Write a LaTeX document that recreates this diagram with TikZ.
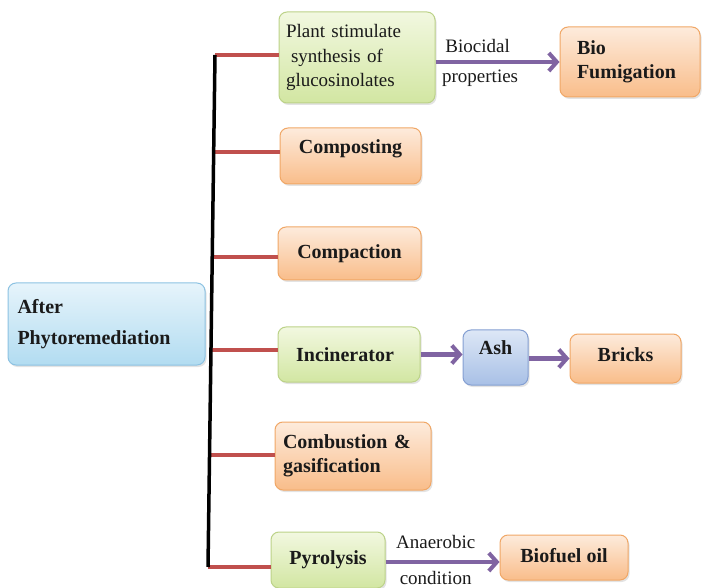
\documentclass[tikz,border=0pt]{standalone}
\usepackage{fontspec}
\setmainfont{Liberation Serif}
\usetikzlibrary{arrows.meta,shadows}

\definecolor{greenA}{HTML}{F2F8E0}
\definecolor{greenB}{HTML}{D2E6A2}
\definecolor{greenD}{HTML}{BCD288}
\definecolor{orangeA}{HTML}{FDEBDC}
\definecolor{orangeB}{HTML}{F9BD8A}
\definecolor{orangeD}{HTML}{F0A766}
\definecolor{blueA}{HTML}{E6F4FB}
\definecolor{blueB}{HTML}{B2DCF1}
\definecolor{blueD}{HTML}{8CC2E2}
\definecolor{ashA}{HTML}{DDE7F6}
\definecolor{ashB}{HTML}{A8C0E6}
\definecolor{ashD}{HTML}{849FD2}
\definecolor{branchred}{HTML}{C0504D}
\definecolor{arrowpurple}{HTML}{8064A2}
\definecolor{txt}{HTML}{1A1A1A}

\tikzset{
  box/.style={rounded corners=8pt, line width=1pt, inner sep=3pt, text=txt,
    font=\fontsize{20}{24.5}\selectfont\bfseries,
    drop shadow={shadow xshift=1.5pt, shadow yshift=-2pt, opacity=0.22}},
  greenbox/.style={box, draw=greenD, top color=greenA, bottom color=greenB},
  orangebox/.style={box, draw=orangeD, top color=orangeA, bottom color=orangeB},
  bluebox/.style={box, draw=blueD, top color=blueA, bottom color=blueB},
  ashbox/.style={box, draw=ashD, top color=ashA, bottom color=ashB},
  trunk/.style={line width=3.5pt, black},
  branch/.style={line width=3.5pt, branchred},
  flow/.style={line width=4.5pt, arrowpurple,
    -{Straight Barb[length=8pt, width=18pt, line width=4pt]}},
  lbl/.style={font=\fontsize{19}{24}\selectfont, inner sep=0pt, text=txt}
}

\begin{document}
\begin{tikzpicture}[x=1pt, y=-1pt]
\useasboundingbox (0,0) rectangle (702,588);

% boxes
\node[bluebox, minimum width=197pt, minimum height=82pt, align=left, text width=178pt] (after) at (106.5,324)
  {After\\[7pt]Phytoremediation};
\node[greenbox, minimum width=156pt, minimum height=91pt, align=left, text width=142pt,
  font=\fontsize{19}{24.5}\selectfont\mdseries] (plant) at (357,57.5)
  {Plant stimulate\\\hspace*{5pt}synthesis of\\glucosinolates};
\node[orangebox, minimum width=140pt, minimum height=70pt, align=left, text width=106pt] (biofum) at (630,62)
  {Bio\\Fumigation};
\node[orangebox, minimum width=141pt, minimum height=56pt, text depth=18pt] (compost) at (350.5,156)
  {Composting};
\node[orangebox, minimum width=143pt, minimum height=53pt] (compact) at (349.5,253.5)
  {Compaction};
\node[greenbox, minimum width=142pt, minimum height=55pt] (incin) at (349,354.5)
  {\hspace*{-8pt}Incinerator};
\node[ashbox, minimum width=65pt, minimum height=55pt, text depth=20pt] (ash) at (495.5,357.5)
  {Ash};
\node[orangebox, minimum width=111pt, minimum height=49pt, text depth=8pt] (bricks) at (625.5,358.5)
  {Bricks};
\node[orangebox, minimum width=156pt, minimum height=68pt, align=left, text width=140pt] (combust) at (353,456)
  {Combustion \&\\gasification};
\node[greenbox, minimum width=114pt, minimum height=56pt] (pyro) at (328,560)
  {Pyrolysis};
\node[orangebox, minimum width=128pt, minimum height=45pt, text depth=5pt] (biofuel) at (564,557.5)
  {Biofuel oil};

% trunk and branches
\coordinate (j1) at (215,55);
\coordinate (j2) at (213.7,152);
\coordinate (j3) at (212.2,257);
\coordinate (j4) at (211,350);
\coordinate (j5) at (209.5,455);
\coordinate (j6) at (208,567);
\draw[branch] (j1) -- (j1 -| plant.west);
\draw[branch] (j2) -- (j2 -| compost.west);
\draw[branch] (j3) -- (j3 -| compact.west);
\draw[branch] (j4) -- (j4 -| incin.west);
\draw[branch] (j5) -- (j5 -| combust.west);
\draw[branch] (j6) -- (j6 -| pyro.west);
\draw[trunk] (j1) -- (j6);

% arrows
\draw[flow] (plant.east |- biofum.west) -- (biofum.west)
  node[lbl, pos=0.34, above=7pt] {Biocidal}
  node[lbl, pos=0.36, below=6pt] {properties};
\draw[flow] (incin.east) -- (ash.west |- incin.east);
\draw[flow] (ash.east |- bricks.west) -- (bricks.west);
\coordinate (py) at (0,562);
\draw[flow] (pyro.east |- py) -- (biofuel.west |- py)
  node[lbl, pos=0.44, above=11pt] {Anaerobic}
  node[lbl, pos=0.44, below=7pt] {condition};
\end{tikzpicture}
\end{document}
